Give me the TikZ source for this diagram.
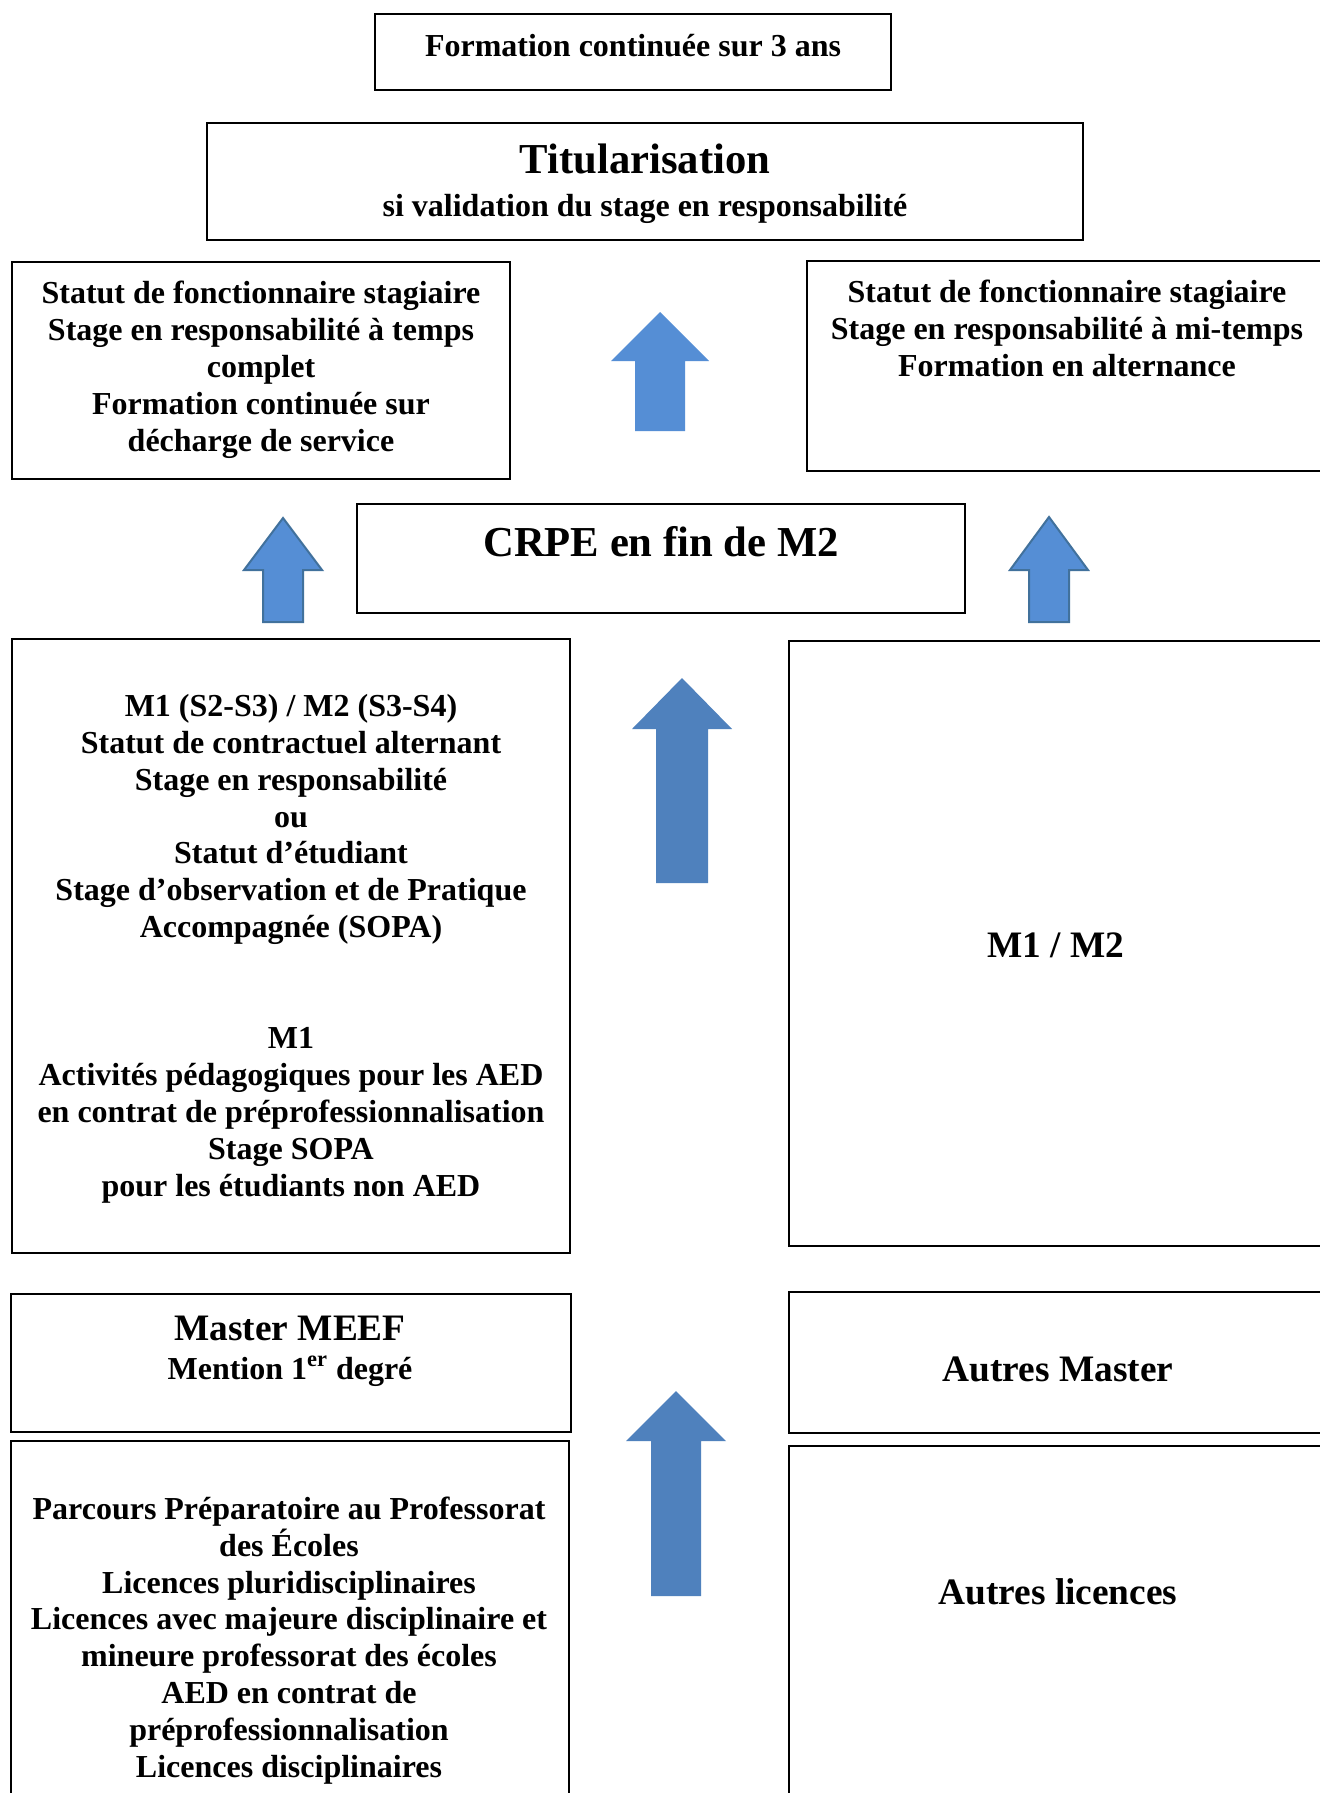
\documentclass[tikz,border=0pt]{standalone}
\usepackage{fontspec}
\setmainfont{Liberation Serif}
\definecolor{arrowA}{HTML}{558ED5}
\definecolor{arrowEdge}{HTML}{41719C}
\definecolor{arrowB}{HTML}{4F81BD}
\newcommand\blockup[7]{%
  \path[#7] (#1,#2) -- (#1+#5,#3) -- (#1+#6,#3) -- (#1+#6,#4) -- (#1-#6,#4) -- (#1-#6,#3) -- (#1-#5,#3) -- cycle;}
\begin{document}
\begin{tikzpicture}[x=0.5pt,y=-0.5pt,
  box/.style={draw=black, line width=0.8pt, inner sep=0pt, outer sep=0pt, anchor=north west},
  txt/.style={align=center, inner sep=0pt, font=\fontsize{16}{18.45}\selectfont\bfseries},
  bigtxt/.style={align=center, inner sep=0pt, font=\fontsize{18.67}{21.7}\selectfont\bfseries},
  hugetxt/.style={align=center, inner sep=0pt, font=\fontsize{21.33}{24.8}\selectfont\bfseries},
  arrowlight/.style={fill=arrowA},
  arrowframed/.style={fill=arrowA, draw=arrowEdge, line width=1pt, line join=miter},
  arrowdark/.style={fill=arrowB}
]
\useasboundingbox (0,0) rectangle (1320,1793);
\clip (0,0) rectangle (1320,1793);
\fill[white] (0,0) rectangle (1320,1793);

% boxes
\node[box, minimum width=258pt, minimum height=38pt] (b1) at (375,14) {};
\node[box, minimum width=438pt, minimum height=58.5pt] (b2) at (207,123) {};
\node[box, minimum width=249pt, minimum height=108.5pt] (b3) at (12,262) {};
\node[box, minimum width=260pt, minimum height=105pt] (b4) at (807,261) {};
\node[box, minimum width=304pt, minimum height=54.5pt] (b5) at (357,504) {};
\node[box, minimum width=279pt, minimum height=307pt] (b6) at (12,639) {};
\node[box, minimum width=267pt, minimum height=302.5pt] (b7) at (789,641) {};
\node[box, minimum width=280pt, minimum height=69pt] (b8) at (11,1294) {};
\node[box, minimum width=267pt, minimum height=70.5pt] (b9) at (789,1292) {};
\node[box, minimum width=279pt, minimum height=184.5pt] (b10) at (11,1441) {};
\node[box, minimum width=267pt, minimum height=182pt] (b11) at (789,1446) {};

% texts
\node[txt] (t1) at (633,46) {Formation continuée sur 3 ans};
\node[hugetxt] (t2a) at (645,159) {Titularisation};
\node[txt] (t2b) at (645,209) {si validation du stage en responsabilité};
\node[txt] (t3) at (261,369.5) {Statut de fonctionnaire stagiaire\\Stage en responsabilité à temps\\complet\\Formation continuée sur\\décharge de service};
\node[txt] (t4) at (1067,328.5) {Statut de fonctionnaire stagiaire\\Stage en responsabilité à mi-temps\\Formation en alternance};
\node[hugetxt] (t5) at (661,542) {CRPE en fin de M2};
\node[txt] (t6) at (291,948.5) {M1 (S2-S3) / M2 (S3-S4)\\Statut de contractuel alternant\\Stage en responsabilité\\ou\\Statut d’étudiant\\Stage d’observation et de Pratique\\Accompagnée (SOPA)\\[36.9pt]M1\\Activités pédagogiques pour les AED\\en contrat de préprofessionnalisation\\Stage SOPA\\pour les étudiants non AED};
\node[bigtxt] (t7) at (1056,945) {M1 / M2};
\node[bigtxt] (t8a) at (290,1328) {Master MEEF};
\node[txt] (t8b) at (290,1371) {Mention 1\textsuperscript{er} degré};
\node[bigtxt] (t9) at (1058,1369) {Autres Master};
\node[txt] (t10) at (289,1640.5) {Parcours Préparatoire au Professorat\\des Écoles\\Licences pluridisciplinaires\\Licences avec majeure disciplinaire et\\mineure professorat des écoles\\AED en contrat de\\préprofessionnalisation\\Licences disciplinaires};
\node[bigtxt] (t11) at (1058,1592) {Autres licences};

% block arrows
\blockup{660}{312}{361}{431}{49}{25}{arrowlight}
\blockup{283}{518}{570}{622}{39}{20}{arrowframed}
\blockup{1049}{517}{570}{622}{39}{20}{arrowframed}
\blockup{682}{678}{729}{883}{50}{26}{arrowdark}
\blockup{676}{1391}{1441}{1596}{50}{25}{arrowdark}
\end{tikzpicture}
\end{document}
